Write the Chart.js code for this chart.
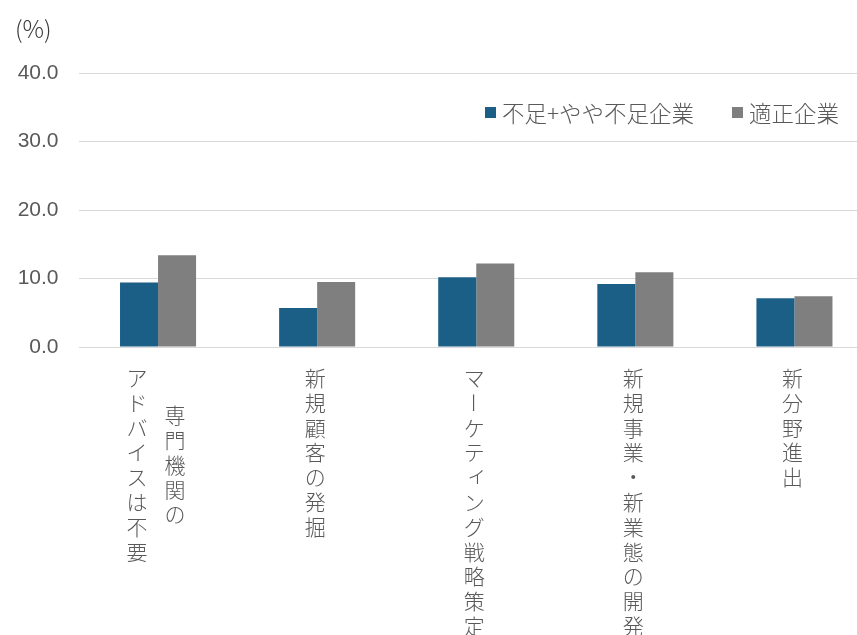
<!DOCTYPE html>
<html lang="ja">
<head>
<meta charset="utf-8">
<title>経営課題別の割合</title>
<script src="https://cdn.jsdelivr.net/npm/chart.js@4/dist/chart.umd.min.js"></script>
<style>
  html, body { margin: 0; padding: 0; background: #ffffff; overflow: hidden; }
  #wrap { width: 874px; height: 635px; position: relative; }
</style>
</head>
<body>
<div id="wrap"><canvas id="chart" width="874" height="635"></canvas></div>
<script>
// Categories (each entry: columns of vertical text, first column drawn rightmost)
const categories = [
  ['専門機関の', 'アドバイスは不要'],
  ['新規顧客の発掘'],
  ['マーケティング戦略策定'],
  ['新規事業・新業態の開発'],
  ['新分野進出']
];
const seriesNames = ['不足+やや不足企業', '適正企業'];
const shortageValues = [9.4, 5.7, 10.2, 9.2, 7.1];
const adequateValues = [13.4, 9.5, 12.2, 10.9, 7.4];
const yTickValues = [0, 10, 20, 30, 40];
const unitLabel = '(%)';

const COLORS = ['#1c5f86', '#7f7f7f'];
const TEXT = '#595959';
const JP_FONT = '"Noto Sans CJK JP", "Noto Sans", sans-serif';

// Vertical (top-to-bottom) category text under each bar pair
const verticalLabels = {
  id: 'verticalLabels',
  afterDraw(chart) {
    const ctx = chart.ctx;
    const xs = chart.scales.x;
    const pitch = 24.8, colGap = 38, firstY = 378;
    ctx.save();
    ctx.font = '300 21px ' + JP_FONT;
    ctx.fillStyle = TEXT;
    ctx.textAlign = 'center';
    ctx.textBaseline = 'middle';
    categories.forEach((cols, i) => {
      const cx = xs.getPixelForValue(i) - 2;
      const longest = Math.max(...cols.map(c => c.length));
      const midY = firstY + (longest - 1) * pitch / 2;
      cols.forEach((col, j) => {
        const x = cx + ((cols.length - 1) / 2 - j) * colGap;
        const chars = Array.from(col);
        const startY = midY - (chars.length - 1) * pitch / 2;
        chars.forEach((ch, k) => {
          const y = startY + k * pitch;
          if (ch === 'ー') {
            ctx.save();
            ctx.translate(x, y);
            ctx.rotate(Math.PI / 2);
            ctx.fillText(ch, 0, 0);
            ctx.restore();
          } else if ('ィァゥェォッャュョ'.includes(ch)) {
            ctx.fillText(ch, x + 3, y - 3);
          } else {
            ctx.fillText(ch, x, y);
          }
        });
      });
    });
    ctx.restore();
  }
};

// Unit text and legend drawn in the upper area
const decorations = {
  id: 'decorations',
  afterDraw(chart) {
    const ctx = chart.ctx;
    ctx.save();
    ctx.textBaseline = 'middle';
    ctx.textAlign = 'left';
    ctx.fillStyle = '#3a3a3a';
    ctx.font = '300 24px ' + JP_FONT;
    ctx.fillText(unitLabel, 15, 29);

    const legendY = 112;
    const squareX = [485, 732];
    ctx.font = '300 22.5px ' + JP_FONT;
    chart.data.datasets.forEach((ds, i) => {
      ctx.fillStyle = ds.backgroundColor;
      ctx.fillRect(squareX[i], legendY - 5, 11, 11);
      ctx.fillStyle = TEXT;
      ctx.fillText(ds.label, squareX[i] + 17, legendY + 1);
    });
    ctx.restore();
  }
};

new Chart(document.getElementById('chart'), {
  type: 'bar',
  data: {
    labels: categories.map(c => c.join('')),
    datasets: [
      { label: seriesNames[0], data: shortageValues, backgroundColor: COLORS[0] },
      { label: seriesNames[1], data: adequateValues, backgroundColor: COLORS[1] }
    ]
  },
  options: {
    responsive: false,
    animation: false,
    devicePixelRatio: 1,
    layout: { padding: { top: 73, right: 0, left: 0, bottom: 0 } },
    plugins: { legend: { display: false }, tooltip: { enabled: false } },
    datasets: { bar: { categoryPercentage: 0.478, barPercentage: 1.0 } },
    scales: {
      x: {
        grid: { display: false },
        border: { display: false },
        ticks: { display: false },
        afterFit(scale) { scale.height = 288; }
      },
      y: {
        min: yTickValues[0],
        max: yTickValues[yTickValues.length - 1],
        afterBuildTicks(scale) { scale.ticks = yTickValues.map(v => ({ value: v })); },
        grid: { color: '#d9d9d9', lineWidth: 1, drawTicks: false },
        border: { display: false },
        ticks: {
          padding: 20,
          color: TEXT,
          font: { family: '"Liberation Sans", Arial, sans-serif', size: 21 },
          callback: v => Number(v).toFixed(1)
        },
        afterFit(scale) { scale.width = 78.5; }
      }
    }
  },
  plugins: [verticalLabels, decorations]
});
</script>
</body>
</html>
